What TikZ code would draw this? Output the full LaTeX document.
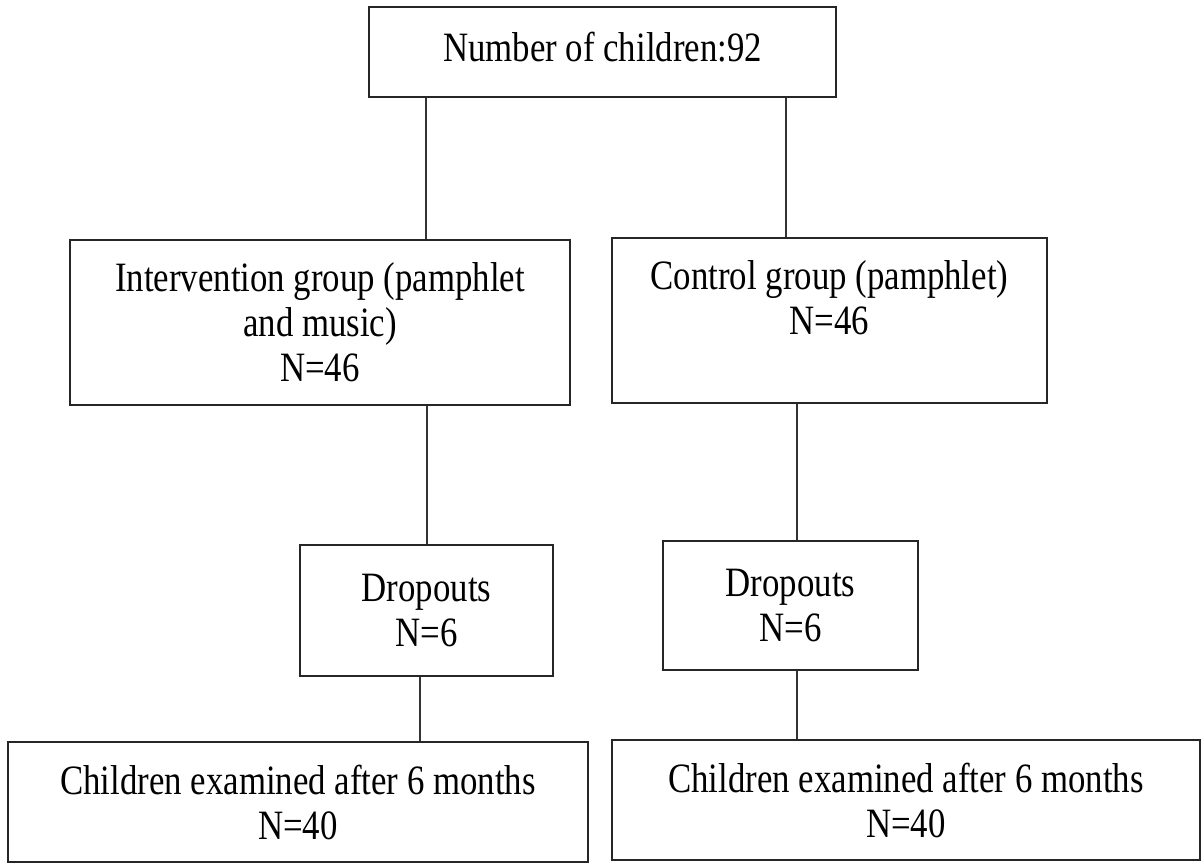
\documentclass[tikz,border=0pt]{standalone}
\usepackage{graphicx}
\usepackage{fontspec}
\setmainfont{Liberation Serif}
\newcommand{\strline}[1]{\scalebox{1}[1.2]{#1}}
\begin{document}
\tikzset{
  box/.style={draw=black!85, line width=1.5pt, fill=white, align=center, inner sep=0pt,
    font=\fontsize{34.8}{45}\selectfont},
  link/.style={draw=black!80, line width=1.5pt}
}
\begin{tikzpicture}[x=1pt,y=-1pt]
\useasboundingbox (0,0) rectangle (1204,864);
% boxes
\node[box, minimum width=467pt, minimum height=90pt] (top) at (602.5,52) {\strline{Number of children:92}\\[-35pt]\mbox{}};
\node[box, minimum width=500pt, minimum height=165pt] (inter) at (320,322.5) {\strline{Intervention group (pamphlet}\\\strline{and music)}\\\strline{N=46}};
\node[box, minimum width=435pt, minimum height=165pt] (ctrl) at (829.5,320.5) {\strline{Control group (pamphlet)}\\\strline{N=46}\\\mbox{}};
\node[box, minimum width=253pt, minimum height=131pt] (dropL) at (426.5,610.5) {\strline{Dropouts}\\\strline{N=6}};
\node[box, minimum width=255pt, minimum height=129pt] (dropR) at (790.5,605.5) {\strline{Dropouts}\\\strline{N=6}};
\node[box, minimum width=580pt, minimum height=120pt] (endL) at (298,802) {\strline{Children examined after 6 months}\\\strline{N=40}};
\node[box, minimum width=588pt, minimum height=120pt] (endR) at (906,800) {\strline{Children examined after 6 months}\\\strline{N=40}};
% connector columns
\coordinate (xa) at (426,0);
\coordinate (xb) at (786,0);
\coordinate (xc) at (427,0);
\coordinate (xd) at (420,0);
\coordinate (xe) at (797,0);
% connectors
\draw[link] (top.south -| xa) -- (inter.north -| xa);
\draw[link] (top.south -| xb) -- (ctrl.north -| xb);
\draw[link] (inter.south -| xc) -- (dropL.north -| xc);
\draw[link] (ctrl.south -| xe) -- (dropR.north -| xe);
\draw[link] (dropL.south -| xd) -- (endL.north -| xd);
\draw[link] (dropR.south -| xe) -- (endR.north -| xe);
\end{tikzpicture}
\end{document}
